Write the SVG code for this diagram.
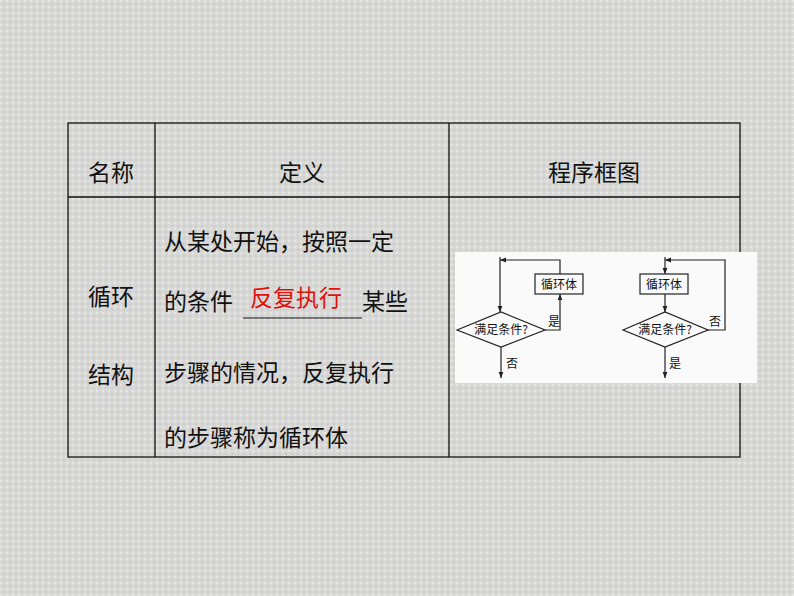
<svg xmlns="http://www.w3.org/2000/svg" width="794" height="596" viewBox="0 0 794 596">
<defs>
<marker id="a" viewBox="0 0 10 10" refX="10" refY="5" markerWidth="5" markerHeight="5" orient="auto"><path d="M0,1 L10,5 L0,9 z" fill="#222"/></marker>
<pattern id="bg" width="6" height="6" patternUnits="userSpaceOnUse"><rect width="6" height="6" fill="#d8d8d6"/><rect x="0" y="0" width="2" height="2" fill="#e6e6e4"/><rect x="3" y="3" width="2" height="2" fill="#cacac8"/></pattern>
</defs>
<style>
.t{font-family:"Noto Sans CJK SC","Noto Sans",sans-serif;font-size:23px;fill:#111}
.s{font-family:"Noto Sans CJK SC",sans-serif;font-size:12px;fill:#111}
.l{stroke:#222;stroke-width:1.2;fill:none}
.g{stroke:#111;stroke-width:1.3;fill:none}
</style>
<rect width="794" height="596" fill="url(#bg)"/>
<g id="table">
<rect x="68" y="123" width="672" height="334" class="g"/>
<line x1="68" y1="197" x2="740" y2="197" class="g"/>
<line x1="155" y1="123" x2="155" y2="457" class="g"/>
<line x1="449" y1="123" x2="449" y2="457" class="g"/>
<text class="t" x="111" y="181" text-anchor="middle">名称</text>
<text class="t" x="302" y="181" text-anchor="middle">定义</text>
<text class="t" x="594" y="181" text-anchor="middle">程序框图</text>
<text class="t" x="111" y="305" text-anchor="middle">循环</text>
<text class="t" x="111" y="383" text-anchor="middle">结构</text>
<text class="t" x="164" y="250">从某处开始，按照一定</text>
<text class="t" x="164" y="310">的条件</text>
<line x1="243" y1="318" x2="362" y2="318" stroke="#111" stroke-width="1.2"/>
<text class="t" x="250" y="306" fill="#e0100c" style="fill:#e0100c">反复执行</text>
<text class="t" x="362" y="310">某些</text>
<text class="t" x="164" y="381">步骤的情况，反复执行</text>
<text class="t" x="164" y="446">的步骤称为循环体</text>
</g>
<rect x="455" y="252" width="302" height="131" fill="#fafafa"/>
<g id="left">
<rect x="535" y="274" width="48" height="20" class="l" fill="#fff"/>
<text class="s" x="559" y="289" text-anchor="middle">循环体</text>
<polygon points="457,330 501,312 545,330 501,347" class="l"/>
<text class="s" x="501" y="334" text-anchor="middle">满足条件?</text>
<text class="s" x="548" y="326">是</text>
<text class="s" x="506" y="368">否</text>
</g>
<g id="right">
<rect x="640" y="274" width="48" height="20" class="l"/>
<text class="s" x="664" y="289" text-anchor="middle">循环体</text>
<polygon points="623,330 665,312 708,330 665,347" class="l"/>
<text class="s" x="665" y="334" text-anchor="middle">满足条件?</text>
<text class="s" x="709" y="326">否</text>
<text class="s" x="669" y="368">是</text>
</g>
<g id="connectors">
<path d="M500,257 V312" class="l" marker-end="url(#a)"/>
<path d="M545,330 H560 V294" class="l" marker-end="url(#a)"/>
<path d="M560,274 V260 H500" class="l" marker-end="url(#a)"/>
<path d="M501,347 V378" class="l" marker-end="url(#a)"/>
<path d="M665,257 V274" class="l" marker-end="url(#a)"/>
<path d="M665,294 V312" class="l" marker-end="url(#a)"/>
<path d="M708,330 H725 V260 H665" class="l" marker-end="url(#a)"/>
<path d="M665,347 V378" class="l" marker-end="url(#a)"/>
</g>
</svg>
